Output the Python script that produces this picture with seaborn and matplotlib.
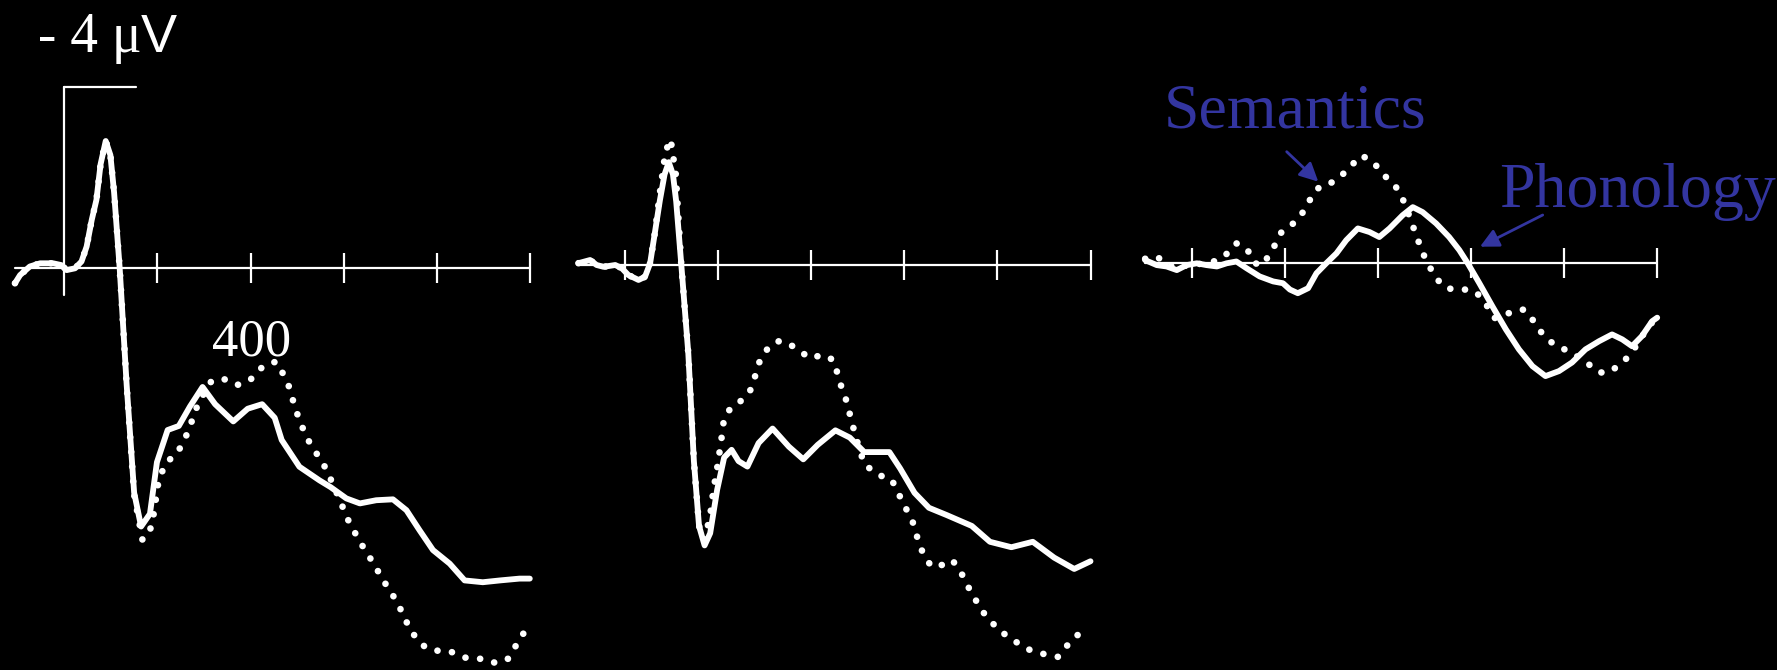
import matplotlib.pyplot as plt
from matplotlib.patches import FancyArrowPatch
import seaborn as sns

# ERP waveforms: time in ms, amplitude in microvolts (negative is plotted up)
p1_solid_t = [-106, -95, -74, -52, -24, -6, 5, 23, 37, 48, 59, 69, 78, 89, 99, 107, 119, 134, 150, 165,
              184, 199, 222, 246, 270, 297, 324, 363, 394, 425, 452, 467, 505, 548, 572, 606, 635, 670, 706, 735,
              763, 792, 828, 860, 899, 936, 978, 1000]
p1_solid_v = [0.33, 0.15, -0.04, -0.11, -0.11, -0.07, 0.04, 0, -0.15, -0.48, -1.07, -1.51, -2.3, -2.81, -2.5, -1.67, 0, 2.58, 4.95, 5.7,
              5.42, 4.28, 3.57, 3.48, 3.05, 2.62, 3.0, 3.38, 3.1, 3.0, 3.3, 3.79, 4.38, 4.68, 4.83, 5.08, 5.19, 5.12, 5.1, 5.34,
              5.78, 6.22, 6.52, 6.89, 6.93, 6.89, 6.85, 6.85]
p1_dot_t = [-106, -95, -74, -52, -24, -6, 5, 23, 37, 48, 59, 69, 78, 89, 99, 107, 119, 134, 150,
            168, 188, 203, 219, 242, 265, 288, 316, 342, 370, 397, 428, 455, 479, 498, 515, 528, 542, 556, 567,
            589, 610, 635, 649, 677, 692, 706, 720, 731, 741, 759, 778, 799, 828, 853, 877, 903, 928, 953, 967,
            978, 995]
p1_dot_v = [0.33, 0.15, -0.04, -0.11, -0.11, -0.07, 0.04, 0, -0.15, -0.48, -1.07, -1.51, -2.3, -2.81, -2.5, -1.67, 0, 2.58, 5.0,
            6.0, 5.7, 4.66, 4.28, 4.1, 3.63, 2.97, 2.49, 2.44, 2.58, 2.49, 2.15, 2.06, 2.49, 3.15, 3.6, 3.87, 4.09, 4.31, 4.53,
            5.05, 5.56, 6.04, 6.26, 6.74, 7.0, 7.22, 7.48, 7.7, 7.95, 8.2, 8.39, 8.44, 8.45, 8.58, 8.62, 8.62, 8.72, 8.62, 8.39,
            8.17, 7.95]

p2_solid_t = [-100, -75, -61, -46, -21, -7, 7, 29, 43, 54, 64, 75, 85, 94, 103, 110, 121, 136, 148, 159,
              171, 183, 198, 213, 229, 244, 263, 287, 317, 352, 383, 414, 452, 483, 514, 537, 568, 591, 622, 653,
              691, 745, 784, 830, 876, 922, 965, 1000]
p2_solid_v = [-0.04, -0.11, 0, 0.04, 0, 0.07, 0.22, 0.33, 0.26, -0.04, -0.7, -1.43, -2.0, -2.27, -2.0, -1.4, 0, 1.95, 4.33, 5.76,
              6.19, 5.92, 4.96, 4.25, 4.08, 4.33, 4.45, 3.93, 3.61, 4.01, 4.29, 3.97, 3.65, 3.81, 4.13, 4.13, 4.13, 4.49, 5.03, 5.36,
              5.52, 5.76, 6.11, 6.23, 6.11, 6.46, 6.71, 6.54]
p2_dot_t = [-100, -75, -61, -46, -21, -7, 7, 29, 43, 54, 64, 75, 87, 98, 109, 121, 136, 148, 159, 171,
            183, 190, 198, 206, 213, 229, 252, 271, 290, 310, 333, 360, 398, 425, 448, 464, 475, 487, 495, 514,
            545, 572, 595, 618, 633, 645, 660, 679, 703, 722, 745, 772, 803, 830, 853, 876, 909, 930, 949, 968, 988]
p2_dot_v = [-0.04, -0.11, 0, 0.04, 0, 0.07, 0.22, 0.33, 0.26, -0.04, -0.7, -1.6, -2.5, -2.78, -2.01, 0, 1.95, 4.33, 5.76, 6.07,
            5.52, 4.96, 4.48, 3.93, 3.37, 3.13, 2.98, 2.74, 2.10, 1.79, 1.67, 1.79, 2.06, 1.98, 2.10, 2.66, 2.98, 3.45, 3.77, 4.40,
            4.64, 4.72, 5.20, 5.67, 6.19, 6.47, 6.67, 6.63, 6.51, 6.79, 7.26, 7.70, 8.06, 8.25, 8.41, 8.53, 8.61, 8.65, 8.41, 8.21, 8.02]

p3_solid_t = [-100, -75, -54, -32, -11, 11, 32, 54, 75, 96, 118, 146, 175, 196, 211, 228, 250, 268, 289, 311,
              332, 357, 382, 403, 425, 453, 475, 496, 525, 553, 575, 593, 618, 646, 675, 703, 732, 760, 789, 817,
              846, 875, 903, 925, 946, 967, 989, 1000]
p3_solid_v = [-0.07, 0.04, 0.07, 0.15, 0.04, 0, 0.04, 0.07, 0, -0.04, 0.11, 0.29, 0.40, 0.44, 0.58, 0.66, 0.55, 0.22, 0, -0.22,
              -0.51, -0.77, -0.69, -0.58, -0.77, -1.06, -1.24, -1.13, -0.88, -0.58, -0.29, 0, 0.44, 0.95, 1.46, 1.90, 2.27, 2.49, 2.38, 2.19,
              1.90, 1.72, 1.57, 1.68, 1.83, 1.61, 1.28, 1.2]
p3_dot_t = [-100, -75, -50, -25, 0, 25, 50, 70, 82, 96, 118, 136, 153, 168, 181, 193, 214, 232, 246, 261,
            278, 303, 325, 346, 364, 386, 403, 421, 439, 453, 471, 482, 493, 503, 525, 546, 571, 600, 621, 635,
            650, 668, 689, 714, 732, 746, 764, 785, 810, 832, 853, 875, 896, 921, 939, 960, 980, 1000]
p3_dot_v = [-0.1, -0.15, 0.05, 0.1, 0.0, 0.02, -0.05, -0.15, -0.29, -0.44, -0.33, 0.0, 0.04, -0.22, -0.44, -0.69, -0.84, -1.02, -1.24, -1.54,
            -1.72, -1.79, -1.97, -2.19, -2.38, -2.27, -2.08, -1.86, -1.68, -1.43, -0.95, -0.62, -0.33, -0.07, 0.33, 0.55, 0.58, 0.58, 0.73, 0.95,
            1.21, 1.17, 1.06, 1.02, 1.24, 1.46, 1.68, 1.83, 1.94, 2.08, 2.23, 2.41, 2.41, 2.23, 2.05, 1.75, 1.4, 1.2]

tick_ms = [200, 400, 600, 800, 1000]
scale_uv = -4

W, H = 1777, 670
PX_MS = 93.1 / 200   # pixels per ms
PX_UV = 45.3         # pixels per microvolt
BLUE = "#3335a0"

sns.set_style("white")
plt.rcParams["font.family"] = ["Liberation Serif", "DejaVu Serif"]

fig = plt.figure(figsize=(W / 100, H / 100), dpi=100, facecolor="black")

# (solid, dotted, axes left px, axes width px, onset px, baseline px)
panels = [
    ((p1_solid_t, p1_solid_v), (p1_dot_t, p1_dot_v), 0, 560, 64.3, 268.3),
    ((p2_solid_t, p2_solid_v), (p2_dot_t, p2_dot_v), 560, 560, 625.0, 265.0),
    ((p3_solid_t, p3_solid_v), (p3_dot_t, p3_dot_v), 1120, 657, 1191.7, 263.3),
]

for i, (solid, dot, left, width, onset, zero) in enumerate(panels):
    ax = fig.add_axes([left / W, 0, width / W, 1])
    ax.set_facecolor("black")

    # time axis with ticks
    ax.plot([solid[0][0], 1000], [0, 0], color="white", lw=1.6)
    ax.vlines(tick_ms, -0.33, 0.33, color="white", lw=1.6)
    if i == 0:
        ax.plot([0, 0], [0.6, scale_uv], color="white", lw=1.6)
        ax.plot([0, 155], [scale_uv, scale_uv], color="white", lw=1.6)
    else:
        ax.vlines([0], -0.33, 0.33, color="white", lw=1.6)

    sns.lineplot(x=solid[0], y=solid[1], ax=ax, color="white", linewidth=4.2,
                 errorbar=None, solid_capstyle="round", solid_joinstyle="round")
    sns.lineplot(x=dot[0], y=dot[1], ax=ax, color="white", linewidth=4.8,
                 errorbar=None, linestyle=(0, (0.01, 2.2)), dash_capstyle="round")

    ax.set_xlim((left - onset) / PX_MS, (left + width - onset) / PX_MS)
    ax.set_ylim((H - zero) / PX_UV, -zero / PX_UV)   # inverted: negative up
    ax.axis("off")


def fx(x):
    return x / W


def fy(y):
    return 1 - y / H


fig.text(fx(38), fy(52), "- 4 \u03bc", color="white", fontsize=40, va="baseline", ha="left")
fig.text(fx(141), fy(52), "V", color="white", fontsize=39, va="baseline", ha="left",
         family=["Liberation Sans", "DejaVu Sans"])
fig.text(fx(252), fy(355), "400", color="white", fontsize=38, va="baseline", ha="center")

fig.text(fx(1164), fy(127), "Semantics", color=BLUE, fontsize=46, va="baseline", ha="left")
fig.text(fx(1499), fy(207), "Phonology", color=BLUE, fontsize=46, va="baseline", ha="left")

arrow = dict(arrowstyle="-|>", color=BLUE, lw=2, mutation_scale=28, shrinkA=0, shrinkB=0)
fig.add_artist(FancyArrowPatch((fx(1286.7), fy(151.7)), (fx(1318.3), fy(181.7)),
                               transform=fig.transFigure, **arrow))
fig.add_artist(FancyArrowPatch((fx(1542.7), fy(215)), (fx(1480), fy(246.7)),
                               transform=fig.transFigure, **arrow))

fig.savefig("out.png", dpi=100, facecolor="black")
